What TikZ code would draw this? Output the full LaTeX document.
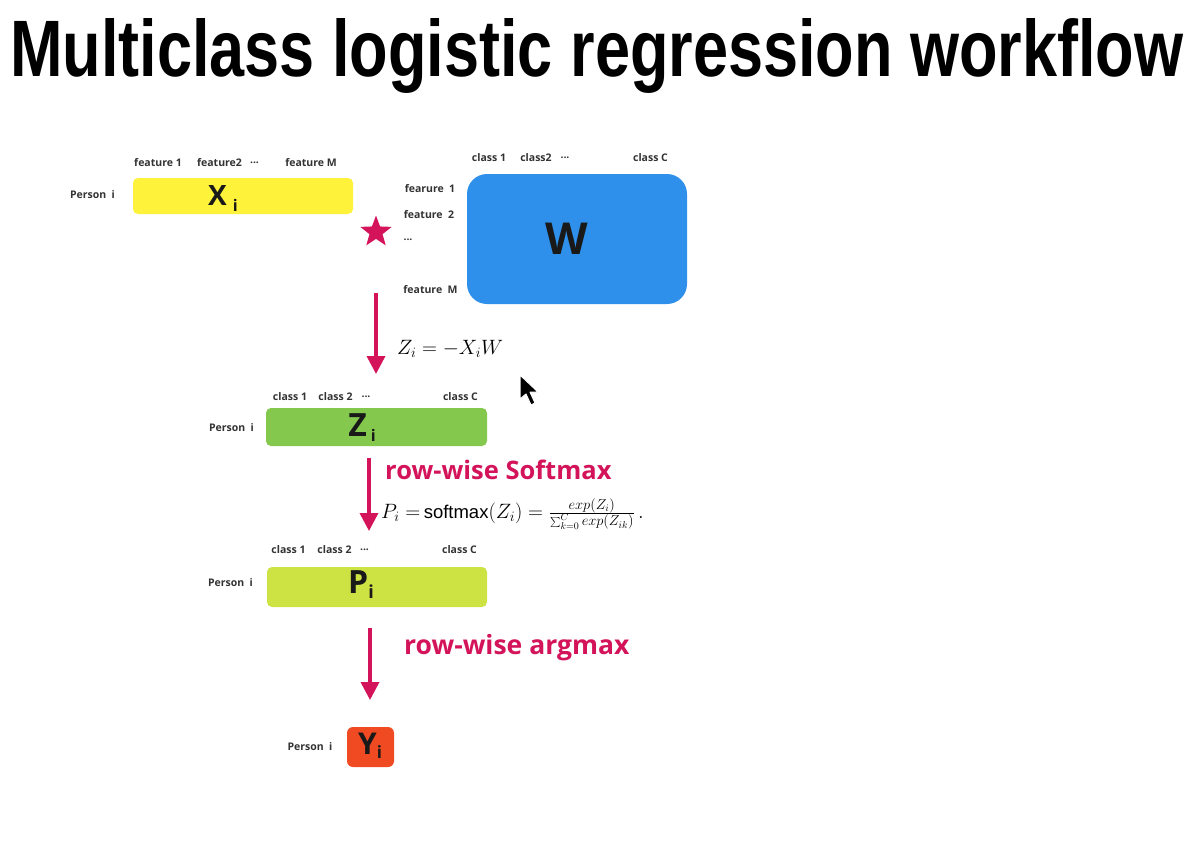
\documentclass[tikz,border=0pt]{standalone}
\usepackage{fontspec}
\newfontfamily\osans{Open Sans}
\newfontfamily\tsans{Liberation Sans}
\usetikzlibrary{arrows.meta,shapes.geometric}
\definecolor{mag}{HTML}{D4145A}
\definecolor{xcol}{HTML}{FFF23A}
\definecolor{wcol}{HTML}{2E90EA}
\definecolor{zcol}{HTML}{84C94E}
\definecolor{pcol}{HTML}{CDE243}
\definecolor{ycol}{HTML}{F04A22}
\definecolor{lblcol}{HTML}{333333}
\begin{document}
\begin{tikzpicture}[x=1pt,y=-1pt,
  lbl/.style={font=\osans\bfseries\fontsize{10.5}{12}\selectfont, text=lblcol, inner sep=0},
  box/.style={draw=none, rounded corners=5pt, inner sep=0},
  big/.style={font=\osans\bfseries\fontsize{32}{34}\selectfont, text=black!90, inner sep=0},
  arr/.style={draw=mag, line width=3.5pt, -{Triangle[width=18pt,length=18pt]}},
  op/.style={font=\osans\bfseries\fontsize{25.5}{30}\selectfont, text=mag, inner sep=0},
  mathlbl/.style={font=\fontsize{20}{22}\selectfont, inner sep=0}]
\useasboundingbox[fill=white] (0,0) rectangle (1195,860);

% title
\node[anchor=base west, inner sep=0] (title) at (10,76)
  {\resizebox{1173pt}{58pt}{\tsans\bfseries Multiclass logistic regression workflow}};

% X row
\node[lbl] (xf1) at (158,163) {feature 1};
\node[lbl] (xf2) at (219.5,163) {feature2};
\node[lbl] (xfd) at (254.5,163) {...};
\node[lbl] (xfm) at (311,163) {feature M};
\node[lbl] (xp) at (92.5,195) {Person\ \ i};
\path[box, fill=xcol] (133,178) rectangle (353,214) node[midway] (X) {};
\node[big, font=\osans\bfseries\fontsize{28}{30}\selectfont] (Xt) at (223,199) {X\hspace{6pt}\raisebox{-6pt}{\fontsize{16}{16}\selectfont i}};

% star
\node[star, star points=5, star point ratio=2.4, fill=mag, minimum size=33pt, inner sep=0] (star) at (376,232) {};

% W
\node[lbl] (wc1) at (489,158) {class 1};
\node[lbl] (wc2) at (536,158) {class2};
\node[lbl] (wcd) at (565,158) {...};
\node[lbl] (wcc) at (650.5,158) {class C};
\node[lbl] (wf1) at (430,189) {fearure\ \ 1};
\node[lbl] (wf2) at (429,215) {feature\ \ 2};
\node[lbl] (wfd) at (408,240) {...};
\node[lbl] (wfm) at (430.5,290) {feature\ \ M};
\path[box, rounded corners=20pt, fill=wcol] (467,174) rectangle (687,304) node[midway] (W) {};
\node[big, font=\osans\bfseries\fontsize{44}{46}\selectfont] (Wt) at (567,239) {W};

% arrow 1
\coordinate (a1s) at (376,293);
\coordinate (a1e) at (376,374);
\draw[arr] (a1s) -- (a1e);
\node[mathlbl, anchor=west, font=\fontsize{21.5}{23}\selectfont] (zeq) at (397,349) {$Z_i = -X_i W$};

% cursor
\draw[fill=black, draw=white, line width=1pt, line join=round]
  (520,375) -- (520,399) -- (526,394) -- (531,405) -- (535,403) -- (530,392) -- (538,392) -- cycle;

% Z row
\node[lbl] (zc1) at (290,397) {class 1};
\node[lbl] (zc2) at (335.5,397) {class 2};
\node[lbl] (zcd) at (366,397) {...};
\node[lbl] (zcc) at (460.5,397) {class C};
\node[lbl] (zp) at (231.5,428) {Person\ \ i};
\path[box, fill=zcol] (266,408) rectangle (487,446) node[midway] (Z) {};
\node[big] (Zt) at (362,428) {Z\hspace{4pt}\raisebox{-5pt}{\fontsize{16}{16}\selectfont i}};

% arrow 2
\coordinate (a2s) at (369,458);
\coordinate (a2e) at (369,531);
\draw[arr] (a2s) -- (a2e);
\node[op, anchor=west] (soft) at (385,470) {row-wise Softmax};
\node[mathlbl, anchor=west] (peq) at (381,514)
  {$P_i\;{=}\,\mbox{\tsans\fontsize{18.5}{20}\selectfont softmax}(Z_i) = \frac{exp(Z_i)}{\sum_{k=0}^{C} exp(Z_{ik})}\,.$};

% P row
\node[lbl] (pc1) at (288.5,550) {class 1};
\node[lbl] (pc2) at (334.5,550) {class 2};
\node[lbl] (pcd) at (364.5,550) {...};
\node[lbl] (pcc) at (459.5,550) {class C};
\node[lbl] (pp) at (230.5,583) {Person\ \ i};
\path[box, fill=pcol] (267,567) rectangle (487,607) node[midway] (P) {};
\node[big] (Pt) at (361,585) {P\raisebox{-5pt}{\fontsize{18}{18}\selectfont i}};

% arrow 3
\coordinate (a3s) at (370,628);
\coordinate (a3e) at (370,700);
\draw[arr] (a3s) -- (a3e);
\node[op, anchor=west, font=\osans\bfseries\fontsize{26.5}{30}\selectfont] (argm) at (404,648) {row-wise argmax};

% Y
\node[lbl] (yp) at (310,747) {Person\ \ i};
\path[box, rounded corners=6pt, fill=ycol] (347,727) rectangle (394,767) node[midway] (Y) {};
\node[big, font=\osans\bfseries\fontsize{30}{32}\selectfont] (Yt) at (370,746) {Y\raisebox{-4pt}{\fontsize{17}{17}\selectfont i}};
\end{tikzpicture}
\end{document}
